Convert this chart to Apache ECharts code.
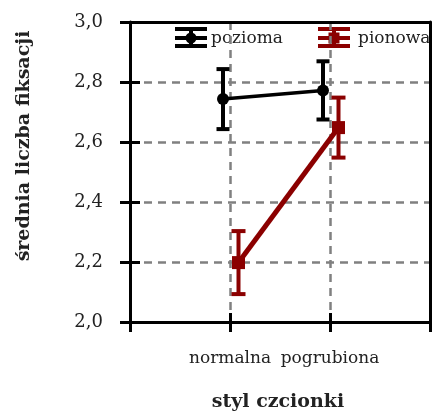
<!DOCTYPE html>
<html>
<head>
<meta charset="utf-8">
<script src="https://cdn.jsdelivr.net/npm/echarts@6/dist/echarts.min.js"></script>
<style>
html,body{margin:0;padding:0;background:#fff;}
#c{width:433px;height:414px;}
</style>
</head>
<body>
<div id="c"></div>
<script>
// ---- data ----
const categories = ['normalna', 'pogrubiona'];
const seriesNames = ['pozioma', 'pionowa'];
const poziomaMean = [2.743, 2.772];
const poziomaErr = [0.10, 0.097];
const pionowaMean = [2.198, 2.648];
const pionowaErr = [0.105, 0.10];
const yTicks = ['2,0', '2,2', '2,4', '2,6', '2,8', '3,0'];
const axisTitleY = 'średnia liczba fiksacji';
const axisTitleX = 'styl czcionki';

// ---- styling / layout ----
const FONT = '"DejaVu Serif", "Liberation Serif", serif';
const BLACK = '#000000';
const RED = '#8b0000';
const TXT = '#222222';
const GRID = { left: 130, top: 22, width: 301, height: 300 };
const offsetPoz = -0.07, offsetPio = 0.085;

function pts(means, offset) {
  return means.map((v, i) => [i + 1 + offset, v]);
}
function errPts(means, errs, offset) {
  return means.map((v, i) => [i + 1 + offset, v, errs[i]]);
}
function errRenderer(color, lw, hw) {
  return function (params, api) {
    const x = api.value(0), y = api.value(1), e = api.value(2);
    const t = api.coord([x, y + e]);
    const b = api.coord([x, y - e]);
    const st = { stroke: color, lineWidth: lw };
    return {
      type: 'group',
      children: [
        { type: 'line', shape: { x1: t[0], y1: t[1], x2: b[0], y2: b[1] }, style: st },
        { type: 'line', shape: { x1: t[0] - hw, y1: t[1], x2: t[0] + hw, y2: t[1] }, style: st },
        { type: 'line', shape: { x1: b[0] - hw, y1: b[1], x2: b[0] + hw, y2: b[1] }, style: st }
      ]
    };
  };
}
// legend glyph (error-bar style) built from shapes
function legendGlyph(x, y, color, marker, label, textX) {
  const w = 32;
  const children = [
    { type: 'rect', shape: { x: x, y: y, width: w, height: 4 }, style: { fill: color } },
    { type: 'rect', shape: { x: x, y: y + 9, width: w, height: 4 }, style: { fill: color } },
    { type: 'rect', shape: { x: x, y: y + 17, width: w, height: 4 }, style: { fill: color } },
    { type: 'rect', shape: { x: x + w / 2 - 2, y: y, width: 4, height: 21 }, style: { fill: color } }
  ];
  if (marker === 'circle') {
    children.push({ type: 'circle', shape: { cx: x + w / 2, cy: y + 11, r: 5.5 }, style: { fill: color } });
  } else {
    children.push({ type: 'rect', shape: { x: x + w / 2 - 5.5, y: y + 5.5, width: 11, height: 11 }, style: { fill: color } });
  }
  children.push({
    type: 'text', x: textX, y: y + 12,
    style: { text: label, font: '17px ' + FONT, fill: TXT, textAlign: 'left', textVerticalAlign: 'middle' }
  });
  return { type: 'group', children: children };
}

const dashed = { color: '#808080', width: 2.5, type: [8, 6] };

const chart = echarts.init(document.getElementById('c'), null, { renderer: 'canvas' });
const option = {
  animation: false,
  backgroundColor: '#ffffff',
  grid: Object.assign({ show: false }, GRID),
  xAxis: [
    {
      type: 'value', min: 0, max: 3, interval: 1,
      axisLine: { show: true, onZero: false, lineStyle: { color: BLACK, width: 3 } },
      axisTick: { show: true, length: 10, lineStyle: { color: BLACK, width: 3 } },
      axisLabel: {
        margin: 28, fontFamily: FONT, fontSize: 17, color: TXT,
        formatter: v => (v >= 1 && v <= categories.length) ? categories[v - 1] : ''
      },
      splitLine: { show: true, showMinLine: false, showMaxLine: false, lineStyle: dashed }
    },
    {
      type: 'value', min: 0, max: 3, interval: 1, position: 'top', gridIndex: 0,
      axisLine: { show: true, onZero: false, lineStyle: { color: BLACK, width: 3 } },
      axisTick: { show: false }, axisLabel: { show: false }, splitLine: { show: false }
    },
    {
      type: 'value', min: 0, max: 3, interval: 1, position: 'bottom', gridIndex: 0,
      axisLine: { show: false, onZero: false },
      axisTick: { show: true, inside: true, length: 9, lineStyle: { color: BLACK, width: 3 } },
      axisLabel: { show: false }, splitLine: { show: false }
    }
  ],
  yAxis: [
    {
      type: 'value', min: 2, max: 3, interval: 0.2,
      axisLine: { show: true, onZero: false, lineStyle: { color: BLACK, width: 3 } },
      axisTick: { show: true, length: 10, lineStyle: { color: BLACK, width: 3 } },
      axisLabel: {
        margin: 27, fontFamily: FONT, fontSize: 18, color: TXT,
        formatter: (v) => yTicks[Math.round((v - 2) / 0.2)]
      },
      splitLine: { show: true, showMinLine: false, showMaxLine: false, lineStyle: dashed }
    },
    {
      type: 'value', min: 2, max: 3, interval: 0.2, position: 'left',
      axisLine: { show: false, onZero: false },
      axisTick: { show: true, inside: true, length: 10, lineStyle: { color: BLACK, width: 3 } },
      axisLabel: { show: false }, splitLine: { show: false }
    },
    {
      type: 'value', min: 2, max: 3, interval: 0.2, position: 'right',
      axisLine: { show: true, onZero: false, lineStyle: { color: BLACK, width: 3 } },
      axisTick: { show: false }, axisLabel: { show: false }, splitLine: { show: false }
    }
  ],
  graphic: [
    {
      type: 'text', x: 24, y: 146, rotation: Math.PI / 2,
      style: { text: axisTitleY, font: 'bold 19px ' + FONT, fill: TXT, textAlign: 'center', textVerticalAlign: 'middle' }
    },
    {
      type: 'text', x: 278, y: 402,
      style: { text: axisTitleX, font: 'bold 19px ' + FONT, fill: TXT, textAlign: 'center', textVerticalAlign: 'middle' }
    },
    legendGlyph(175, 27, BLACK, 'circle', seriesNames[0], 211),
    legendGlyph(318, 27, RED, 'square', seriesNames[1], 358)
  ],
  series: [
    {
      name: seriesNames[0], type: 'line', data: pts(poziomaMean, offsetPoz),
      symbol: 'circle', symbolSize: 12, z: 5,
      lineStyle: { color: BLACK, width: 3.5 }, itemStyle: { color: BLACK }
    },
    {
      name: seriesNames[1], type: 'line', data: pts(pionowaMean, offsetPio),
      symbol: 'rect', symbolSize: 13, z: 5,
      lineStyle: { color: RED, width: 5 }, itemStyle: { color: RED }
    },
    {
      name: 'errPoz', type: 'custom', data: errPts(poziomaMean, poziomaErr, offsetPoz),
      renderItem: errRenderer(BLACK, 4, 6.5), z: 4, encode: { x: 0, y: 1 }
    },
    {
      name: 'errPio', type: 'custom', data: errPts(pionowaMean, pionowaErr, offsetPio),
      renderItem: errRenderer(RED, 4, 7), z: 4, encode: { x: 0, y: 1 }
    }
  ]
};
chart.setOption(option);
</script>
</body>
</html>
